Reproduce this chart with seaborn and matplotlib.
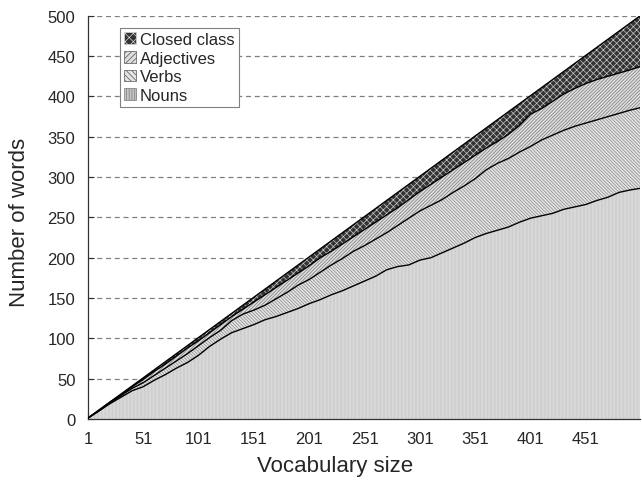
import numpy as np
import pandas as pd
import matplotlib
matplotlib.use("Agg")
import matplotlib.pyplot as plt
import seaborn as sns
from matplotlib.patches import Patch

# vocabulary size (x) and number of words per class
vocab = [1, 11, 21, 31, 41, 51, 61, 71, 81, 91, 101, 111, 121, 131, 141, 151, 161, 171, 181, 191,
         201, 211, 221, 231, 241, 251, 261, 271, 281, 291, 301, 311, 321, 331, 341, 351, 361, 371,
         381, 391, 401, 411, 421, 431, 441, 451, 461, 471, 481, 491, 500]
nouns = [1, 10, 19, 27, 35, 40, 48, 55, 63, 70, 79, 90, 99, 107, 112, 117, 123, 127, 132, 137,
         143, 148, 154, 159, 165, 171, 177, 185, 189, 191, 197, 200, 206, 212, 218, 225, 230, 234,
         238, 244, 249, 252, 255, 260, 263, 266, 271, 275, 281, 284, 286]
verbs = [0, 0, 1, 2, 3, 5, 6, 8, 9, 11, 12, 11, 11, 15, 18, 18, 18, 22, 25, 29,
         30, 34, 37, 40, 43, 44, 46, 46, 51, 58, 61, 65, 66, 69, 71, 73, 79, 83,
         85, 87, 89, 94, 97, 98, 100, 101, 100, 100, 98, 99, 100]
adjectives = [0, 1, 1, 1, 2, 4, 5, 5, 6, 7, 6, 6, 7, 5, 6, 10, 13, 14, 15, 15,
              17, 18, 17, 18, 18, 20, 21, 22, 22, 23, 24, 26, 28, 28, 29, 29, 27, 27,
              30, 33, 40, 39, 42, 45, 47, 49, 50, 50, 50, 50, 51]
closed = [0, 0, 0, 1, 1, 2, 2, 3, 3, 3, 4, 4, 4, 4, 5, 6, 7, 8, 9, 10,
          11, 11, 13, 14, 15, 16, 17, 18, 19, 19, 19, 20, 21, 22, 23, 24, 25, 27,
          28, 27, 23, 26, 27, 28, 31, 35, 40, 46, 52, 58, 63]

classes = ["Nouns", "Verbs", "Adjectives", "Closed class"]
df = pd.DataFrame({"vocab": vocab, "Nouns": nouns, "Verbs": verbs,
                   "Adjectives": adjectives, "Closed class": closed})
cum = df[classes].cumsum(axis=1)

sns.set_theme(style="white")
plt.rcParams["font.family"] = ["Liberation Sans", "DejaVu Sans"]
plt.rcParams["hatch.linewidth"] = 0.5

fig = plt.figure(figsize=(6.42, 4.81), dpi=100)
ax = fig.add_axes([0.137, 0.127, 0.86, 0.838])

styles = {
    "Nouns": dict(facecolor="#c6c6c6", edgecolor="#e2e2e2", hatch="|" * 12),
    "Verbs": dict(facecolor="#e4e4e4", edgecolor="#888888", hatch="\\" * 10),
    "Adjectives": dict(facecolor="#dedede", edgecolor="#7a7a7a", hatch="/" * 10),
    "Closed class": dict(facecolor="#333333", edgecolor="#c8c8c8", hatch="x" * 5),
}

ax.yaxis.grid(True, color="#808080", linestyle=(0, (4, 3)), linewidth=0.9)
ax.set_axisbelow(True)

lower = np.zeros(len(vocab))
for c in classes:
    upper = cum[c].values
    ax.fill_between(df["vocab"], lower, upper, linewidth=0, zorder=2, **styles[c])
    sns.lineplot(x=df["vocab"], y=upper, ax=ax, color="black", linewidth=1.0, zorder=3)
    lower = upper

ax.set_xlim(1, 500)
ax.set_ylim(0, 500)
ax.set_xticks(range(1, 452, 50))
ax.set_yticks(range(0, 501, 50))
ax.tick_params(direction="in", length=4, width=0.8, color="#333333", labelsize=12,
               bottom=True, left=True, pad=9)
for s in ["top", "right"]:
    ax.spines[s].set_visible(False)
for s in ["left", "bottom"]:
    ax.spines[s].set_color("#333333")
    ax.spines[s].set_linewidth(0.9)

ax.set_xlabel("Vocabulary size", fontsize=16)
ax.set_ylabel("Number of words", fontsize=16)
ax.xaxis.set_label_coords(0.447, -0.09)
ax.yaxis.set_label_coords(-0.105, 0.49)

leg_styles = {
    "Nouns": dict(facecolor="#c6c6c6", edgecolor="#777777", hatch="||||||"),
    "Verbs": dict(facecolor="#e4e4e4", edgecolor="#555555", hatch="\\\\\\\\\\\\"),
    "Adjectives": dict(facecolor="#dedede", edgecolor="#555555", hatch="//////"),
    "Closed class": dict(facecolor="#333333", edgecolor="#d8d8d8", hatch="xxxx"),
}
handles = [Patch(label=c, linewidth=0.5, **leg_styles[c]) for c in reversed(classes)]
leg = ax.legend(handles=handles, loc="upper left", bbox_to_anchor=(0.058, 0.97),
                fontsize=12, frameon=True, fancybox=False, edgecolor="#808080",
                handlelength=0.7, handleheight=0.7, handletextpad=0.25,
                borderpad=0.25, borderaxespad=0, labelspacing=0.22, framealpha=1)
leg.get_frame().set_linewidth(0.8)

fig.savefig("out.png", dpi=100)
